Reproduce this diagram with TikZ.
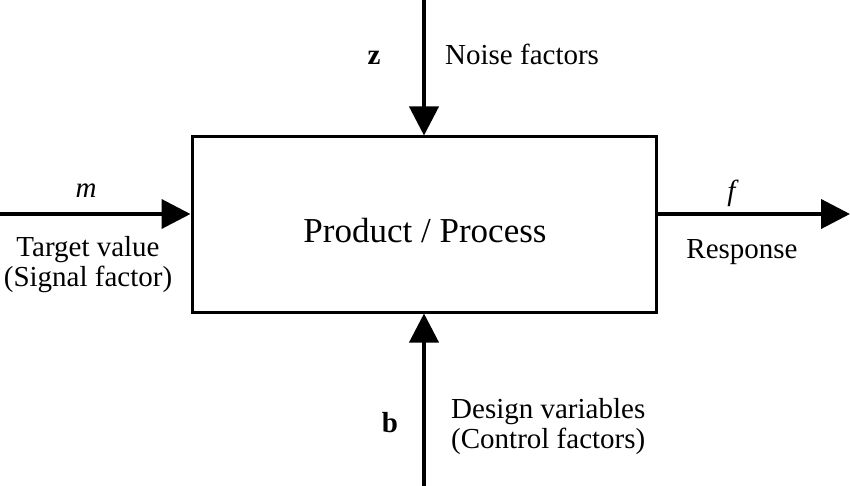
\documentclass[tikz,border=0pt]{standalone}
\usepackage{fontspec}
\setmainfont{Liberation Serif}
\usetikzlibrary{arrows.meta}
\begin{document}
\begin{tikzpicture}[x=1pt,y=-1pt,
  arr/.style={line width=4pt,-{Triangle[length=29pt,width=29pt]}},
  lbl/.style={anchor=base,inner sep=0pt,font=\fontsize{29}{29.5}\selectfont,align=center},
  boxstyle/.style={draw,line width=3pt,minimum width=464pt,minimum height=175pt,inner sep=0pt,font=\fontsize{35}{40}\selectfont}]
\useasboundingbox (0,0) rectangle (850,486);
\node[boxstyle] (box) at (424,224.5) {};
\node[lbl,font=\fontsize{35}{40}\selectfont] (title) at (425,242) {Product / Process};
\coordinate (ztop) at (424,0);
\coordinate (bbot) at (424,486);
\coordinate (lstart) at (0,214);
\coordinate (rend) at (850,214);
\draw[arr] (ztop) -- (box.north);
\draw[arr] (bbot) -- (box.south);
\draw[arr] (lstart) -- (lstart -| box.west);
\draw[arr] (lstart -| box.east) -- (rend);
\node[lbl] (z) at (374,65) {\textbf{z}};
\node[lbl,anchor=base west] (noise) at (445,65) {Noise factors};
\node[lbl] (m) at (86,197) {\textit{m}};
\node[lbl] (target) at (88,286) {Target value\\(Signal factor)};
\node[lbl] (f) at (733,201) {\textit{f}};
\node[lbl] (resp) at (742,258) {Response};
\node[lbl] (b) at (390,432) {\textbf{b}};
\node[lbl,anchor=base west,align=left] (design) at (451,448) {Design variables\\(Control factors)};
\end{tikzpicture}
\end{document}
